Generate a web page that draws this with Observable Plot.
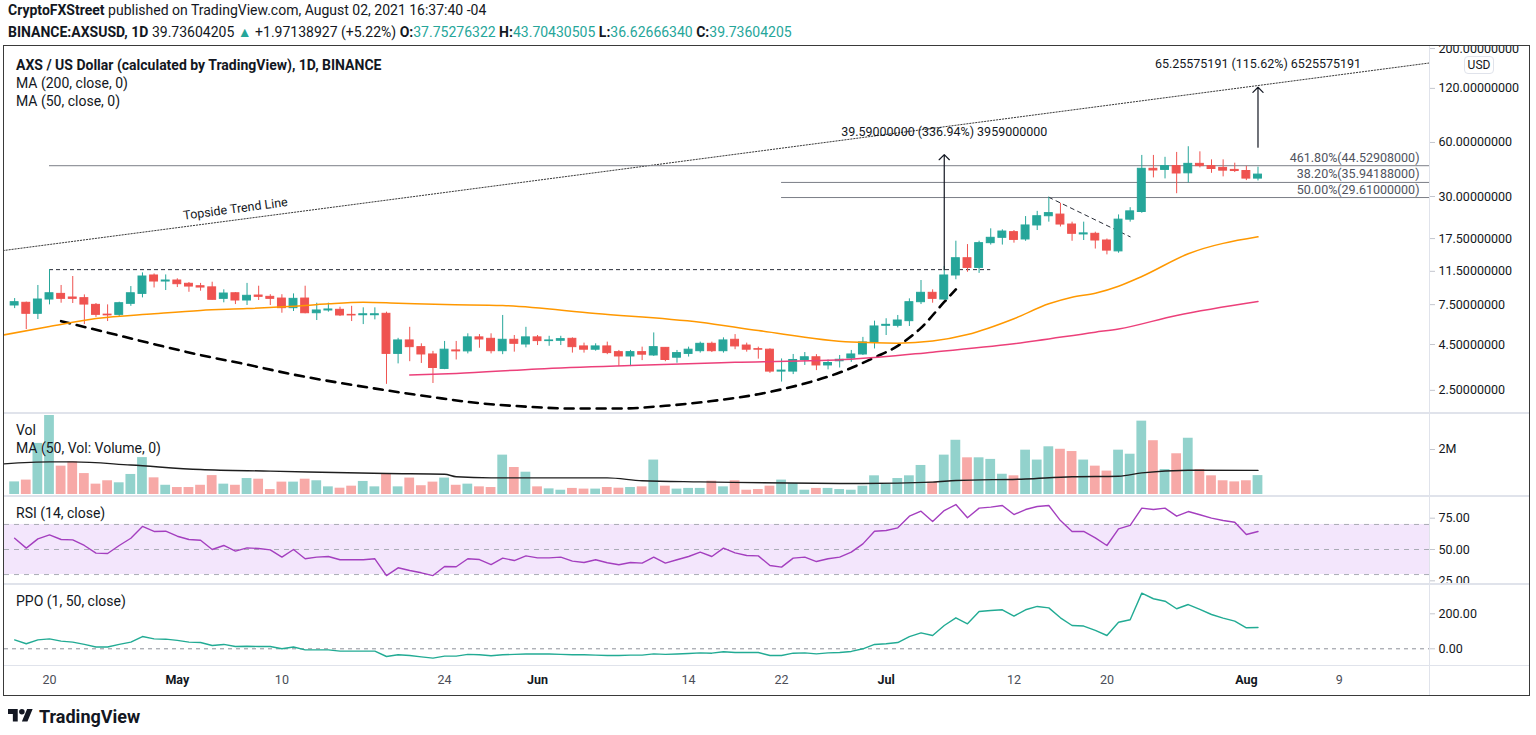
<!DOCTYPE html>
<html><head><meta charset="utf-8">
<script src="https://cdn.jsdelivr.net/npm/d3@7"></script>
<script src="https://cdn.jsdelivr.net/npm/@observablehq/plot@0.6"></script>
<style>
body{margin:0;background:#fff;font-family:Roboto,"Noto Sans",sans-serif;color:#131722;}
#root{position:relative;width:1536px;height:735px;overflow:hidden;background:#fff;}
.abs{position:absolute;}
.hdr{position:absolute;left:8px;font-size:14px;white-space:nowrap;line-height:16px;color:#131722;}
.g{color:#26a69a;}
.lg{position:absolute;left:16px;font-size:14px;white-space:nowrap;line-height:16px;color:#131722;}
.sep{position:absolute;background:#e0e3eb;}
.clip{position:absolute;left:0;width:1536px;overflow:hidden;}
</style></head><body><div id="root"></div>
<script>
// ---------------- DATA ----------------
const dates = ["2021-04-17","2021-04-18","2021-04-19","2021-04-20","2021-04-21","2021-04-22","2021-04-23","2021-04-24","2021-04-25","2021-04-26","2021-04-27","2021-04-28","2021-04-29","2021-04-30",
"2021-05-01","2021-05-02","2021-05-03","2021-05-04","2021-05-05","2021-05-06","2021-05-07","2021-05-08","2021-05-09","2021-05-10","2021-05-11","2021-05-12","2021-05-13","2021-05-14","2021-05-15","2021-05-16","2021-05-17","2021-05-18","2021-05-19","2021-05-20","2021-05-21","2021-05-22","2021-05-23","2021-05-24","2021-05-25","2021-05-26","2021-05-27","2021-05-28","2021-05-29","2021-05-30","2021-05-31",
"2021-06-01","2021-06-02","2021-06-03","2021-06-04","2021-06-05","2021-06-06","2021-06-07","2021-06-08","2021-06-09","2021-06-10","2021-06-11","2021-06-12","2021-06-13","2021-06-14","2021-06-15","2021-06-16","2021-06-17","2021-06-18","2021-06-19","2021-06-20","2021-06-21","2021-06-22","2021-06-23","2021-06-24","2021-06-25","2021-06-26","2021-06-27","2021-06-28","2021-06-29","2021-06-30",
"2021-07-01","2021-07-02","2021-07-03","2021-07-04","2021-07-05","2021-07-06","2021-07-07","2021-07-08","2021-07-09","2021-07-10","2021-07-11","2021-07-12","2021-07-13","2021-07-14","2021-07-15","2021-07-16","2021-07-17","2021-07-18","2021-07-19","2021-07-20","2021-07-21","2021-07-22","2021-07-23","2021-07-24","2021-07-25","2021-07-26","2021-07-27","2021-07-28","2021-07-29","2021-07-30","2021-07-31",
"2021-08-01","2021-08-02"];

const open = [7.42,7.68,6.67,8.01,8.61,8.22,8.15,7.48,6.60,6.58,7.58,8.61,10.90,10.09,
10.22,9.80,9.50,9.36,8.08,8.68,7.91,8.43,8.29,8.11,7.17,8.11,6.72,6.96,7.02,6.58,6.55,6.55,6.67,3.99,4.74,4.35,3.96,3.29,4.17,4.12,4.93,4.84,4.13,4.78,4.50,
4.93,4.70,4.72,4.84,4.39,4.21,4.39,4.08,3.86,4.08,3.91,4.31,3.80,3.99,4.13,4.54,4.13,4.78,4.44,4.24,4.21,3.18,3.18,3.69,3.82,3.44,3.63,3.76,3.96,4.60,
5.72,5.72,6.07,7.74,8.73,8.01,10.90,13.6,12.01,16.5,17.67,19.0,17.3,20.7,23.3,23.8,20.95,18.45,18.6,17.07,14.85,22.3,24.6,42.8,42.2,44.3,40.4,45.6,44.3,43.3,42.2,
41.6,37.75276322];
const high = [8.11,7.75,9.59,11.76,9.59,10.76,8.50,7.61,7.48,7.74,9.46,11.27,11.12,10.98,
10.45,9.96,9.85,10.0,9.07,8.75,9.85,9.50,8.52,8.52,8.61,9.50,7.64,7.64,7.26,7.34,7.20,7.20,6.81,4.87,5.61,4.54,4.12,4.68,4.68,5.16,5.11,5.16,6.53,5.05,5.61,
5.05,5.00,5.00,4.90,4.58,4.54,4.64,4.17,4.17,4.35,5.22,4.33,4.17,4.35,4.64,4.64,4.90,5.11,4.58,4.35,4.26,3.74,3.96,4.06,3.95,3.69,3.91,4.17,4.93,6.07,
6.26,6.53,8.08,10.22,9.07,12.22,16.92,16.2,16.92,19.83,19.58,19.4,23.2,24.8,29.7,27.5,21.6,21.6,18.99,17.4,23.7,26.0,50.8,50.8,49.6,52.8,56.8,53.2,48.0,48.0,46.0,
44.2,43.70430505];
const low = [7.13,5.45,6.20,7.48,7.64,7.61,5.81,6.37,6.04,6.44,7.34,8.18,9.29,8.99,
9.34,8.79,8.91,7.95,7.68,7.51,7.42,7.91,7.42,6.72,6.87,6.67,6.12,6.81,6.44,6.04,5.81,6.17,2.70,3.51,3.61,3.53,2.73,3.26,3.69,3.99,4.29,3.99,3.95,4.08,4.31,
4.44,4.40,4.44,4.03,4.03,4.13,3.95,3.39,3.39,3.66,3.86,3.61,3.54,3.83,4.03,4.06,4.03,4.21,4.08,3.73,3.11,2.78,3.06,3.44,3.22,3.25,3.33,3.58,3.91,4.25,
5.05,5.57,5.67,7.51,7.64,7.91,10.32,11.36,11.2,16.1,16.1,16.5,16.9,19.4,21.6,20.3,16.9,17.07,15.3,14.2,14.5,21.6,24.2,38.1,37.6,31.1,35.7,43.3,40.4,38.6,40.8,
36.8,36.6266634];
const close = [7.74,6.67,8.01,8.68,8.08,8.08,7.51,6.58,6.54,7.64,8.68,10.76,10.09,10.22,
9.75,9.46,9.34,7.98,8.65,7.91,8.40,8.29,8.08,7.17,8.08,6.72,6.96,7.05,6.53,6.53,6.63,6.63,3.99,4.74,4.35,3.96,3.33,4.21,4.12,4.93,4.80,4.13,4.78,4.54,4.93,
4.70,4.74,4.82,4.35,4.21,4.39,4.03,3.86,4.08,3.95,4.35,3.69,4.03,4.21,4.54,4.13,4.74,4.39,4.21,4.21,3.18,3.22,3.69,3.82,3.44,3.55,3.70,3.96,4.62,5.67,
5.79,6.12,7.74,8.73,8.08,10.90,13.6,12.01,16.5,17.67,19.15,17.2,20.7,23.3,24.25,20.95,18.6,18.7,17.07,15.0,22.3,24.8,42.8,41.9,44.3,40.3,45.6,44.3,42.7,41.8,41.6,
37.75276322,39.73604205];
// volume in millions
const volumeM = [0.56,0.64,2.27,3.6,1.26,1.45,0.93,0.46,0.61,0.52,0.89,1.64,0.74,0.41,
0.31,0.31,0.41,0.84,0.46,0.41,0.71,0.68,0.22,0.55,0.55,0.68,0.61,0.34,0.28,0.37,0.58,0.34,0.90,0.34,0.73,0.39,0.55,0.73,0.41,0.46,0.34,0.31,1.75,1.20,0.99,
0.34,0.25,0.19,0.27,0.24,0.24,0.31,0.28,0.31,0.34,1.53,0.37,0.24,0.27,0.27,0.59,0.34,0.61,0.19,0.22,0.37,0.64,0.49,0.19,0.27,0.27,0.22,0.19,0.37,0.83,
0.46,0.71,0.83,1.29,0.55,1.75,2.41,1.63,1.63,1.56,0.90,0.83,1.97,1.53,2.12,2.01,1.91,1.53,1.26,1.04,1.97,1.79,3.26,2.39,1.11,1.81,2.50,1.11,0.83,0.61,0.56,
0.61,0.84];
const rsi = [59.0,51.1,58.5,61.7,58.0,57.7,53.2,47.1,46.8,53.2,59.0,68.4,64.4,64.6,
60.6,58.0,57.4,50.0,53.2,48.7,51.3,50.8,49.7,43.9,50.0,42.6,43.9,44.4,41.8,41.8,41.8,42.6,29.2,35.4,33.2,31.4,29.2,36.4,36.2,42.6,42.0,38.0,43.1,41.2,44.9,
43.3,43.3,43.9,40.7,39.6,41.8,39.4,37.8,39.6,39.1,43.9,39.1,41.8,44.4,47.9,44.4,51.1,47.3,45.2,44.9,37.2,35.9,43.1,43.9,40.4,42.6,43.9,47.9,54.5,64.6,
65.2,67.3,76.6,80.6,72.3,81.1,85.9,75.3,83.0,83.8,85.1,77.9,81.9,84.3,85.1,73.1,64.4,64.4,59.3,53.2,66.5,69.2,83.0,81.9,83.0,76.6,80.3,77.7,75.0,73.1,71.8,
62.0,64.4];
const ppo = [51,29,51,57,44,38,25,10,10,25,38,70,57,55,
48,38,36,19,25,13,15,13,13,0,10,-6,-6,-6,-13,-13,-13,-13,-44,-34,-38,-46,-53,-42,-42,-32,-34,-40,-34,-32,-30,
-30,-30,-32,-34,-34,-36,-38,-38,-36,-36,-29,-32,-30,-27,-23,-25,-17,-21,-21,-21,-38,-38,-25,-23,-29,-23,-21,-15,0,25,
29,36,70,91,76,133,177,143,213,219,223,187,223,242,234,177,133,130,105,76,152,166,318,286,272,229,253,225,196,175,158,
120,122];

// moving averages (at selected dates)
const ma50Dates = ["2021-04-16","2021-04-20","2021-04-24","2021-04-29","2021-05-03","2021-05-07","2021-05-12","2021-05-14","2021-05-17","2021-05-20","2021-05-24","2021-05-29","2021-06-06","2021-06-15","2021-06-20","2021-06-28","2021-07-02","2021-07-05","2021-07-08","2021-07-12","2021-07-15","2021-07-17","2021-07-19","2021-07-21","2021-07-23","2021-07-27","2021-08-02"];
const ma50Values = [5.08,5.67,6.28,6.67,6.96,7.13,7.42,7.58,7.74,7.64,7.51,7.42,6.70,5.99,5.38,4.64,4.58,4.70,5.11,6.26,7.58,8.25,8.68,9.50,10.76,14.4,17.9];
const ma200Dates = ["2021-05-21","2021-05-25","2021-06-01","2021-06-09","2021-06-18","2021-06-28","2021-07-05","2021-07-12","2021-07-19","2021-07-21","2021-07-26","2021-08-02"];
const ma200Values = [3.04,3.10,3.29,3.44,3.58,3.73,4.08,4.54,5.27,5.49,6.53,7.81];
const volMaDates = ["2021-04-16","2021-04-20","2021-04-22","2021-04-27","2021-05-03","2021-05-09","2021-05-19","2021-05-24","2021-05-25","2021-05-28","2021-06-07","2021-06-10","2021-06-15","2021-06-29","2021-07-05","2021-07-07","2021-07-13","2021-07-17","2021-07-21","2021-07-23","2021-07-27","2021-08-02"];
const volMaValuesM = [1.36,1.45,1.45,1.31,1.11,1.04,0.93,0.90,0.79,0.74,0.74,0.61,0.56,0.49,0.55,0.62,0.69,0.79,0.81,0.96,1.08,1.07];

// drawings
const cupDates = ["2021-04-21","2021-04-25","2021-04-29","2021-05-03","2021-05-07","2021-05-11","2021-05-15","2021-05-19","2021-05-23","2021-05-27","2021-05-31","2021-06-04","2021-06-08","2021-06-12","2021-06-16","2021-06-20","2021-06-24","2021-06-27","2021-06-30","2021-07-02","2021-07-04","2021-07-06","2021-07-07"];
const cupPrices = [6.07,5.24,4.52,3.93,3.48,3.06,2.75,2.50,2.29,2.12,2.03,1.98,1.98,2.05,2.18,2.38,2.73,3.14,3.81,4.42,5.57,7.76,9.12];
const trendDates = ["2021-04-16","2021-08-17"];
const trendPrices = [15.0,167];
const trendLabel = "Topside Trend Line", trendLabelDate = "2021-05-06", trendLabelPrice = 25.6;
const flagDates = ["2021-07-15","2021-07-22"];
const flagPrices = [29.7,17.9];
const resistancePrice = 11.75, resistanceStart = "2021-04-20", resistanceEnd = "2021-07-10";
const fibLevels = ["461.80%","38.20%","50.00%"];
const fibPrices = [44.52908,35.94188,29.61];
const fibStarts = ["2021-04-20","2021-06-22","2021-06-22"];
const arrowDates = ["2021-07-06","2021-08-02"];
const arrowFrom = [11.75,56.44];
const arrowTo = [51.34,121.7];
const arrowLabels = ["39.59000000 (336.94%) 3959000000","65.25575191 (115.62%) 6525575191"];

// ticks
const priceTicks = [2.5,4.5,7.5,11.5,17.5,30,60,120,200];
const volTicks = [2e6];
const rsiTicks = [25,50,75];
const ppoTicks = [0,200];
const xTickDates = ["2021-04-20","2021-05-01","2021-05-10","2021-05-24","2021-06-01","2021-06-14","2021-06-22","2021-07-01","2021-07-12","2021-07-20","2021-08-01","2021-08-09"];
const xTickLabels = ["20","May","10","24","Jun","14","22","Jul","12","20","Aug","9"];

// ---------------- BUILD ----------------
const DAY = 864e5;
const parse = s => new Date(s + "T00:00:00Z");
const UP = "#26a69a", DOWN = "#ef5350";
const candles = dates.map((d, i) => ({date: parse(d), open: open[i], high: high[i], low: low[i], close: close[i],
  volume: volumeM[i] * 1e6, rsi: rsi[i], ppo: ppo[i], up: close[i] >= open[i]}));
const series = (ds, vs, k = 1) => ds.map((d, i) => ({date: parse(d), value: vs[i] * k}));
const ma50 = series(ma50Dates, ma50Values), ma200 = series(ma200Dates, ma200Values);
const volMa = series(volMaDates, volMaValuesM, 1e6);
const cup = series(cupDates, cupPrices), trend = series(trendDates, trendPrices), flag = series(flagDates, flagPrices);
const fibs = fibLevels.map((l, i) => ({price: fibPrices[i], start: parse(fibStarts[i]), label: `${l}(${fibPrices[i].toFixed(8)})`}));
const arrows = arrowDates.map((d, i) => ({date: parse(d), from: arrowFrom[i], to: arrowTo[i], label: arrowLabels[i]}));
const xTicks = xTickDates.map(parse);
const labelOf = d => xTickLabels[xTicks.findIndex(t => +t === +d)];
const monthTicks = xTicks.filter((t, i) => isNaN(+xTickLabels[i]));
const dayTicks = xTicks.filter((t, i) => !isNaN(+xTickLabels[i]));

const xDomain = [new Date(Date.UTC(2021, 3, 16, 3, 3)), new Date(Date.UTC(2021, 7, 16, 18, 14))];
const common = {
  width: 1536, marginLeft: 4, marginRight: 107,
  x: {type: "utc", domain: xDomain},
  style: {fontFamily: "Roboto, sans-serif", fontSize: "12px", background: "transparent", overflow: "visible", color: "#131722"}
};
// right-hand value axis: tick marks from axisY, labels drawn as text marks
const yAxis = (ticks, fmt) => [
  Plot.axisY(ticks, {anchor: "right", tickSize: 5, tickPadding: 4, tickFormat: () => "", stroke: "#c3c6ce", label: null}),
  Plot.text(ticks, {y: d => d, text: fmt, frameAnchor: "right", textAnchor: "start", dx: 9, fill: "#131722", fontSize: 12.5})
];
const halfBody = 0.34 * DAY, halfBar = 0.42 * DAY;
const col = d => d.up ? UP : DOWN;
const noX = Plot.axisX({ticks: [], label: null, tickSize: 0});

const mainPlot = Plot.plot({
  ...common, height: 367, marginTop: 0, marginBottom: 0,
  y: {type: "log", domain: [1.858, 205.3]},
  marks: [
    noX,
    ...yAxis(priceTicks, d => d.toFixed(8)),
    Plot.line(trend, {x: "date", y: "value", stroke: "#3a3a3a", strokeWidth: 1, strokeDasharray: "1.3,1.7", clip: true}),
    Plot.text([trendLabel], {x: () => parse(trendLabelDate), y: () => trendLabelPrice, text: d => d, rotate: -7.5, fontSize: 12.5, fill: "#131722"}),
    Plot.ruleY(fibs, {y: "price", x1: "start", x2: () => xDomain[1], stroke: "#7b7e87", strokeWidth: 1}),
    Plot.text(fibs, {y: "price", text: "label", frameAnchor: "right", textAnchor: "end", dx: -10, dy: -8, fontSize: 12.5, fill: "#50535e"}),
    Plot.ruleY([resistancePrice], {y: d => d, x1: () => parse(resistanceStart), x2: () => parse(resistanceEnd), stroke: "#2a2e39", strokeWidth: 1, strokeDasharray: "4,3"}),
    Plot.line(cup, {x: "date", y: "value", curve: "monotone-x", stroke: "#000", strokeWidth: 2.6, strokeDasharray: "9,7"}),
    Plot.line(flag, {x: "date", y: "value", stroke: "#2a2e39", strokeWidth: 1, strokeDasharray: "4,4"}),
    Plot.ruleX(candles, {x: "date", y1: "low", y2: "high", stroke: col, strokeWidth: 1}),
    Plot.rect(candles, {x1: d => new Date(+d.date - halfBody), x2: d => new Date(+d.date + halfBody),
      y1: d => Math.min(d.open, d.close), y2: d => Math.max(d.open, d.close), fill: col, stroke: col, strokeWidth: 1}),
    Plot.line(ma50, {x: "date", y: "value", stroke: "#ff9800", strokeWidth: 1.5, curve: "monotone-x", clip: true}),
    Plot.line(ma200, {x: "date", y: "value", stroke: "#ec407a", strokeWidth: 1.5, curve: "monotone-x", clip: true}),
    Plot.arrow(arrows, {x1: "date", x2: "date", y1: "from", y2: "to", stroke: "#131722", strokeWidth: 1.2, headLength: 9, headAngle: 90}),
    Plot.text(arrows, {x: "date", y: "to", text: "label", dy: -23, fontSize: 12.5, fill: "#131722"})
  ]
});

const volPlot = Plot.plot({
  ...common, height: 79, marginTop: 0, marginBottom: 0,
  y: {domain: [0, 3.511e6]},
  marks: [
    noX,
    ...yAxis(volTicks, () => "2M"),
    Plot.rect(candles, {x1: d => new Date(+d.date - halfBar), x2: d => new Date(+d.date + halfBar), y1: () => 0, y2: "volume",
      fill: col, fillOpacity: 0.5, clip: true}),
    Plot.line(volMa, {x: "date", y: "value", stroke: "#1e1e1e", strokeWidth: 1.4, curve: "monotone-x", clip: true})
  ]
});

const rsiPlot = Plot.plot({
  ...common, height: 86, marginTop: 0, marginBottom: 0,
  y: {domain: [22.87, 91.5]},
  marks: [
    noX,
    Plot.rect([[30, 70]], {y1: d => d[0], y2: d => d[1], fill: "#f3e6fc"}),
    Plot.ruleY([30, 50, 70], {stroke: "#a9acb5", strokeDasharray: "5,5", strokeWidth: 1}),
    ...yAxis(rsiTicks, d => d.toFixed(2)),
    Plot.line(candles, {x: "date", y: "rsi", stroke: "#a43fbf", strokeWidth: 1.4})
  ]
});

const ppoPlot = Plot.plot({
  ...common, height: 110, marginTop: 0, marginBottom: 30,
  y: {domain: [-95.4, 361.7]},
  marks: [
    Plot.ruleY([0], {stroke: "#8d9099", strokeDasharray: "4,4", strokeWidth: 1}),
    ...yAxis(ppoTicks, d => d.toFixed(2)),
    Plot.line(candles, {x: "date", y: "ppo", stroke: "#22ab94", strokeWidth: 1.4}),
    Plot.axisX(dayTicks, {tickSize: 0, tickPadding: 10, tickFormat: labelOf, fill: "#4a4d57", fontSize: 12.5, label: null}),
    Plot.axisX(monthTicks, {tickSize: 0, tickPadding: 10, tickFormat: labelOf, fill: "#131722", fontWeight: "bold", fontSize: 12.5, label: null})
  ]
});

// ---------------- LAYOUT ----------------
const root = document.getElementById("root");
function addDiv(cls, css, html) { const e = document.createElement("div"); e.className = cls; e.style.cssText = css; if (html != null) e.innerHTML = html; root.appendChild(e); return e; }
addDiv("hdr", "top:2px", "<b>CryptoFXStreet</b> published on TradingView.com, August 02, 2021 16:37:40 -04");
const last = candles[candles.length - 1];
addDiv("hdr", "top:24px", `<b>BINANCE:AXSUSD, 1D</b> 39.73604205 <span class="g">&#9650;</span> +1.97138927 (+5.22%) <b>O:</b><span class="g">${last.open.toFixed(8)}</span> <b>H:</b><span class="g">${last.high.toFixed(8)}</span> <b>L:</b><span class="g">${last.low.toFixed(8)}</span> <b>C:</b><span class="g">${last.close.toFixed(8)}</span>`);

// separators
addDiv("sep", "left:4px;top:412px;width:1525px;height:2px");
addDiv("sep", "left:4px;top:495px;width:1525px;height:2px");
addDiv("sep", "left:4px;top:583px;width:1525px;height:2px");
addDiv("sep", "left:4px;top:665px;width:1525px;height:1px");
addDiv("sep", "left:1429px;top:45px;width:1px;height:650px");

function place(plot, top, clipTop, clipH) {
  const c = addDiv("clip", `top:${clipTop}px;height:${clipH}px`);
  plot.style.position = "absolute"; plot.style.left = "0px"; plot.style.top = (top - clipTop) + "px";
  c.appendChild(plot);
}
place(mainPlot, 46, 46, 366);
place(volPlot, 415, 414, 81);
place(rsiPlot, 497, 497, 86);
place(ppoPlot, 585, 585, 110);

// frame
addDiv("abs", "left:3px;top:45px;width:1525px;height:649px;border:1.5px solid #3a3a3a;pointer-events:none");
// legends
addDiv("lg", "top:57px", "<b>AXS / US Dollar (calculated by TradingView), 1D, BINANCE</b>");
addDiv("lg", "top:75px", "MA (200, close, 0)");
addDiv("lg", "top:93px", "MA (50, close, 0)");
addDiv("lg", "top:422px", "Vol");
addDiv("lg", "top:440px", "MA (50, Vol: Volume, 0)");
addDiv("lg", "top:505px", "RSI (14, close)");
addDiv("lg", "top:593px", "PPO (1, 50, close)");
addDiv("abs", "left:1464px;top:56px;width:28px;height:16px;border:1px solid #e0e3eb;border-radius:4px;background:#fff;font-size:12px;line-height:16px;text-align:center;color:#131722", "USD");
// TradingView logo
addDiv("abs", "left:8px;top:705px;height:22px;display:flex;align-items:center;gap:6px;font-weight:700;font-size:18px;color:#131722",
  '<svg width="25" height="20" viewBox="0 0 36 28"><path fill="#131722" d="M14 22H7V11H0V4h14v18zM28 22h-8l7.5-18h8L28 22z"/><circle fill="#131722" cx="20" cy="8" r="4"/></svg><span>TradingView</span>');
</script>
</body></html>
